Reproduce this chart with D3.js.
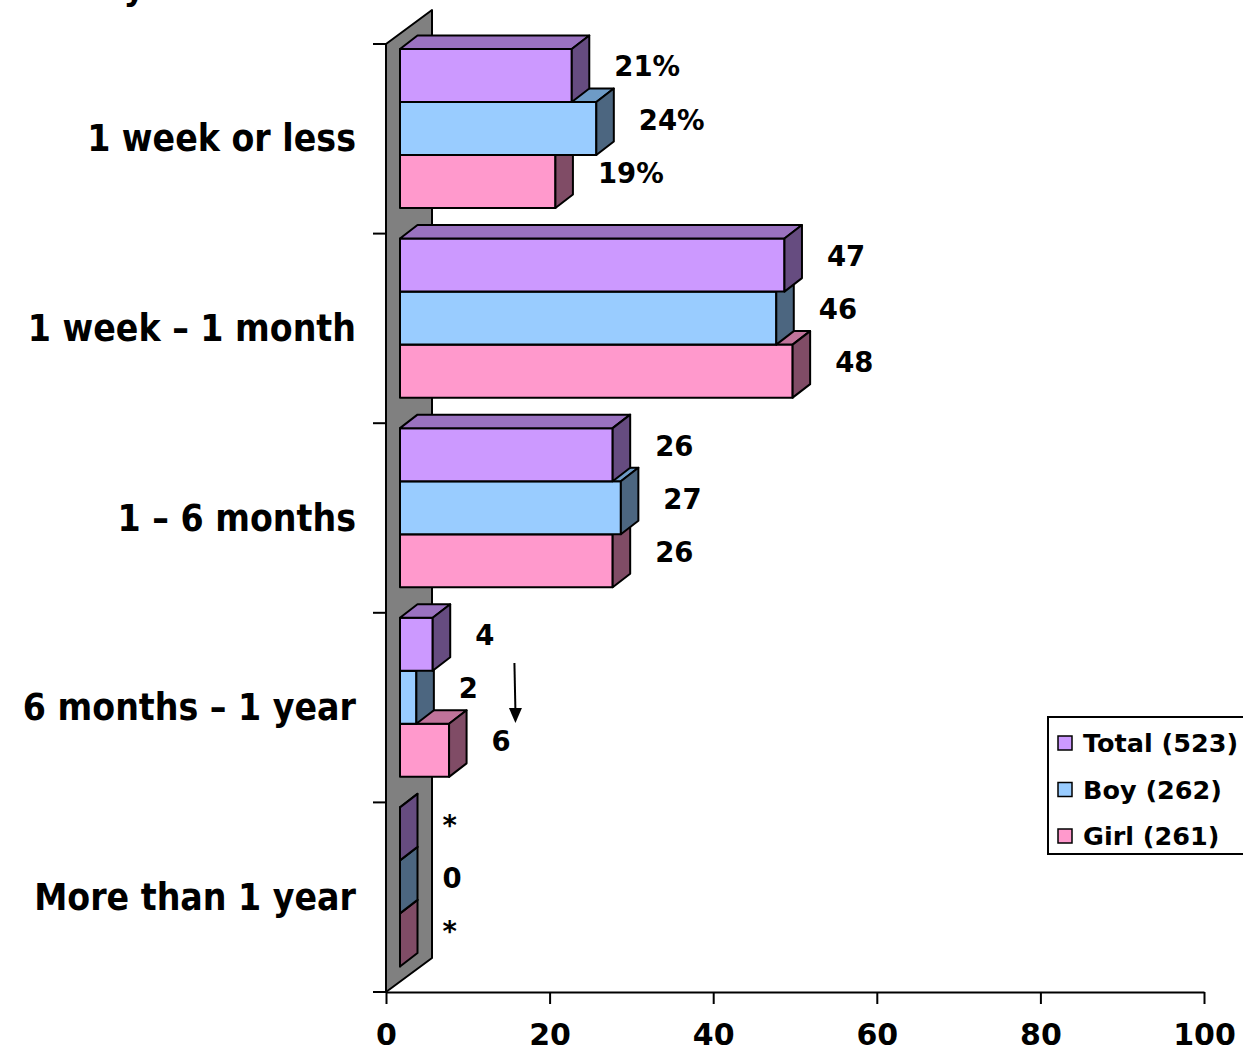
<!DOCTYPE html>
<html>
<head>
<meta charset="utf-8">
<script src="https://cdn.jsdelivr.net/npm/d3@7"></script>
<style>
  html, body { margin: 0; padding: 0; background: #fff; }
  svg { display: block; }
  text { font-family: "DejaVu Sans", Verdana, sans-serif; font-weight: bold; fill: #000; }
</style>
</head>
<body>
<svg id="chart" width="1243" height="1050"></svg>
<script>
// Duration categories (top to bottom) and the three respondent groups
const categories = ["1 week or less", "1 week \u2013 1 month", "1 \u2013 6 months", "6 months \u2013 1 year", "More than 1 year"];
const series = ["Total (523)", "Boy (262)", "Girl (261)"];

// Percentages per group, in category order ("*" = under 0.5%, drawn as 0)
const totalValues = [21, 47, 26, 4, 0];
const boyValues   = [24, 46, 27, 2, 0];
const girlValues  = [19, 48, 26, 6, 0];

const totalLabels = ["21%", "47", "26", "4", "*"];
const boyLabels   = ["24%", "46", "27", "2", "0"];
const girlLabels  = ["19%", "48", "26", "6", "*"];

const xTicks = [0, 20, 40, 60, 80, 100];

const values = [totalValues, boyValues, girlValues];
const labels = [totalLabels, boyLabels, girlLabels];

// Face colours: front, top, side
const palette = [
  { front: "#CC99FF", top: "#9A72C0", side: "#664C80" },
  { front: "#99CCFF", top: "#6E9BC6", side: "#4C6680" },
  { front: "#FF99CC", top: "#C0739A", side: "#804C66" }
];

const svg = d3.select("#chart");

const x = d3.scaleLinear().domain([0, 100]).range([386, 1204]);
const y = d3.scaleBand().domain(categories).range([44, 992])
  .paddingInner(0.161).paddingOuter(0.0805);
const ySub = d3.scaleBand().domain(series).range([0, y.bandwidth()]);

// Oblique projection: wall depth, and where the bar slab sits within it
const wall = { dx: 46, dy: -34 };
const barFront = { dx: 14, dy: -10.3 };
const barDepth = { dx: 17.5, dy: -13.5 };

const [yTop, yBottom] = y.range();

// Cut-off title line above the chart
svg.append("text").attr("x", 75).attr("y", -0.5).style("font-size", "33px").text("of you");

// Side wall
svg.append("polygon")
  .attr("points", [
    [x(0), yTop], [x(0) + wall.dx, yTop + wall.dy],
    [x(0) + wall.dx, yBottom + wall.dy], [x(0), yBottom]
  ].map(p => p.join(",")).join(" "))
  .attr("fill", "#808080").attr("stroke", "#000").attr("stroke-width", 2)
  .attr("stroke-linejoin", "round");

// Category tick marks on the wall edge
const bounds = d3.range(categories.length + 1).map(i => yTop + i * y.step());
svg.append("g").selectAll("line").data(bounds).join("line")
  .attr("x1", x(0) - 13).attr("x2", x(0))
  .attr("y1", d => d).attr("y2", d => d)
  .attr("stroke", "#000").attr("stroke-width", 2);

// Value axis
const xAxis = svg.append("g")
  .attr("transform", `translate(0,${yBottom})`)
  .call(d3.axisBottom(x).tickValues(xTicks).tickSize(12).tickSizeOuter(0).tickPadding(20));
xAxis.select(".domain").attr("stroke", "#000").attr("stroke-width", 2);
xAxis.selectAll(".tick line").attr("stroke", "#000").attr("stroke-width", 2);
xAxis.selectAll(".tick text").style("font-size", "30px")
  .style("font-family", "'DejaVu Sans', sans-serif").style("font-weight", "bold").attr("fill", "#000");

// Category labels
svg.append("g").selectAll("text").data(categories).join("text")
  .attr("x", 356)
  .attr("y", d => y(d) + y.bandwidth() / 2)
  .attr("text-anchor", "end")
  .attr("dominant-baseline", "central")
  .style("font-family", "'DejaVu Sans Condensed', 'DejaVu Sans', sans-serif")
  .style("font-size", "37px")
  .text(d => d);

// 3D bars: lower bars first so upper ones overlap their tops
const barsG = svg.append("g")
  .attr("stroke", "#000").attr("stroke-width", 2).attr("stroke-linejoin", "round");

const pts = a => a.map(p => p.join(",")).join(" ");

categories.slice().reverse().forEach(cat => {
  const ci = categories.indexOf(cat);
  for (let si = series.length - 1; si >= 0; si--) {
    const v = values[si][ci];
    const c = palette[si];
    const x0 = x(0) + barFront.dx;
    const x1 = x(v) + barFront.dx;
    const y0 = y(cat) + ySub(series[si]) + barFront.dy;
    const y1 = y0 + ySub.bandwidth();
    const ddx = barDepth.dx, ddy = barDepth.dy;
    const g = barsG.append("g");
    g.append("polygon").attr("fill", c.front)
      .attr("points", pts([[x0, y0], [x1, y0], [x1, y1], [x0, y1]]));
    g.append("polygon").attr("fill", c.top)
      .attr("points", pts([[x0, y0], [x0 + ddx, y0 + ddy], [x1 + ddx, y0 + ddy], [x1, y0]]));
    g.append("polygon").attr("fill", c.side)
      .attr("points", pts([[x1, y0], [x1 + ddx, y0 + ddy], [x1 + ddx, y1 + ddy], [x1, y1]]));
  }
});

// Value labels, just past the back edge of each bar
const labelG = svg.append("g");
categories.forEach((cat, ci) => {
  series.forEach((s, si) => {
    const v = values[si][ci];
    labelG.append("text")
      .attr("x", x(v) + barFront.dx + barDepth.dx + 25)
      .attr("y", y(cat) + ySub(s) + ySub.bandwidth() / 2 + barFront.dy - 9)
      .attr("dominant-baseline", "central")
      .style("font-size", "27.5px")
      .text(labels[si][ci]);
  });
});

// Downward arrow beside the "6 months – 1 year" group
const arrowCat = categories[3];
const ax = x(15.7);
const ay0 = y(arrowCat) + 35, ay1 = y(arrowCat) + 95;
svg.append("line").attr("x1", ax).attr("x2", ax + 1).attr("y1", ay0).attr("y2", ay1 - 12)
  .attr("stroke", "#000").attr("stroke-width", 2);
svg.append("polygon")
  .attr("points", pts([[ax + 1 - 6.5, ay1 - 15], [ax + 1 + 6.5, ay1 - 15], [ax + 1, ay1]]))
  .attr("fill", "#000");

// Legend
const legend = svg.append("g").attr("transform", "translate(1048,717)");
legend.append("rect").attr("width", 210).attr("height", 137)
  .attr("fill", "#fff").attr("stroke", "#000").attr("stroke-width", 2);
const item = legend.selectAll("g.item").data(series).join("g")
  .attr("class", "item")
  .attr("transform", (d, i) => `translate(0,${25 + i * 46.5})`);
item.append("rect").attr("x", 10).attr("y", -6).attr("width", 14).attr("height", 14)
  .attr("fill", (d, i) => palette[i].front).attr("stroke", "#000").attr("stroke-width", 1.5);
item.append("text").attr("x", 35).attr("y", 1).attr("dominant-baseline", "central")
  .style("font-size", "25.5px").text(d => d);
</script>
</body>
</html>
